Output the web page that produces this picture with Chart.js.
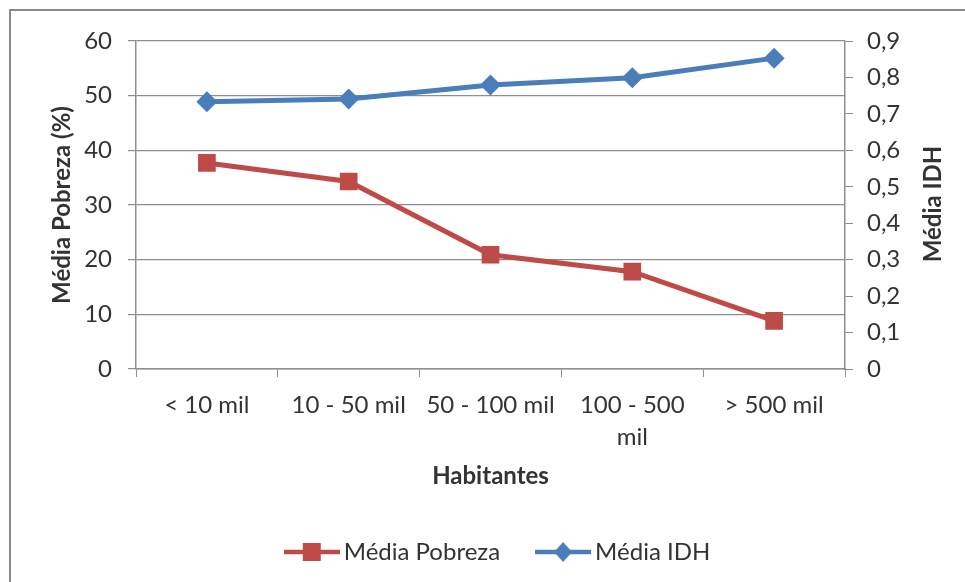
<!DOCTYPE html>
<html>
<head>
<meta charset="utf-8">
<script src="https://cdn.jsdelivr.net/npm/chart.js@4"></script>
<style>
  body { margin: 0; background: #fff; }
  #frame { position: absolute; left: 9px; top: 9px; width: 1000px; height: 600px;
           border-left: 2px solid #8a8a8a; border-top: 2px solid #8a8a8a; }
  #wrap { position: absolute; left: 0; top: 0; width: 965px; height: 582px; }
</style>
</head>
<body>
<div id="frame"></div>
<div id="wrap"><canvas id="myChart" width="965" height="582"></canvas></div>
<script>
const categories = ['< 10 mil', '10 - 50 mil', '50 - 100 mil', ['100 - 500', 'mil'], '> 500 mil'];
const pobreza = [37.7, 34.3, 20.9, 17.8, 8.8];
const idh = [0.733, 0.741, 0.779, 0.799, 0.853];
const leftTicks = [0, 10, 20, 30, 40, 50, 60];
const rightTicks = ['0', '0,1', '0,2', '0,3', '0,4', '0,5', '0,6', '0,7', '0,8', '0,9'];
const rightTitle = 'Média IDH';

const red = '#be4b48';
const blue = '#4a7ebb';
const gridColor = '#8e8e8e';
const textColor = '#333';
const fontFamily = 'Lato, "Open Sans", sans-serif';

// little legend icons: a line with the marker in the middle
function legendIcon(color, shape) {
  const c = document.createElement('canvas');
  c.width = 56; c.height = 22;
  const g = c.getContext('2d');
  g.strokeStyle = color; g.lineWidth = 4.5;
  g.beginPath(); g.moveTo(0, 11); g.lineTo(56, 11); g.stroke();
  g.fillStyle = color;
  if (shape === 'rect') {
    g.fillRect(19, 2, 18, 18);
  } else {
    g.beginPath(); g.moveTo(28, 1); g.lineTo(37, 11); g.lineTo(28, 21); g.lineTo(19, 11); g.closePath(); g.fill();
  }
  return c;
}
const icons = [legendIcon(red, 'rect'), legendIcon(blue, 'diamond')];

// right axis title reads bottom-to-top like the left one
const rightTitlePlugin = {
  id: 'rightTitle',
  afterLayout(chart) {
    // nudge the legend a bit to the right
    chart.legend.left += 21;
    chart.legend.right += 21;
  },
  afterDraw(chart) {
    const { ctx, chartArea } = chart;
    ctx.save();
    ctx.translate(933, (chartArea.top + chartArea.bottom) / 2 - 1);
    ctx.rotate(-Math.PI / 2);
    ctx.font = 'bold 24px ' + fontFamily;
    ctx.fillStyle = textColor;
    ctx.textAlign = 'center';
    ctx.textBaseline = 'middle';
    ctx.fillText(rightTitle, 0, 0);
    ctx.restore();
  }
};

const ctx = document.getElementById('myChart').getContext('2d');
new Chart(ctx, {
  type: 'line',
  plugins: [rightTitlePlugin],
  data: {
    labels: categories,
    datasets: [
      {
        label: 'Média Pobreza',
        data: pobreza,
        yAxisID: 'y',
        borderColor: red,
        backgroundColor: red,
        borderWidth: 5,
        pointStyle: 'rect',
        pointRadius: 12.5,
        pointBorderWidth: 0,
        tension: 0
      },
      {
        label: 'Média IDH',
        data: idh,
        yAxisID: 'y1',
        borderColor: blue,
        backgroundColor: blue,
        borderWidth: 5,
        pointStyle: 'rectRot',
        pointRadius: 10.5,
        pointBorderWidth: 0,
        tension: 0
      }
    ]
  },
  options: {
    responsive: false,
    animation: false,
    layout: { padding: { top: 41, left: 0, right: 5, bottom: 8 } },
    plugins: {
      tooltip: { enabled: false },
      legend: {
        position: 'bottom',
        labels: {
          usePointStyle: true,
          pointStyleWidth: 40,
          padding: 43,
          color: textColor,
          font: { family: fontFamily, size: 24 },
          generateLabels: (chart) => Chart.defaults.plugins.legend.labels.generateLabels(chart)
            .map((item, i) => Object.assign(item, { pointStyle: icons[i] }))
        }
      }
    },
    scales: {
      x: {
        offset: true,
        grid: { offset: true, drawOnChartArea: false, color: gridColor, tickLength: 8 },
        border: { color: gridColor, width: 1.5 },
        ticks: { color: textColor, padding: 12, maxRotation: 0, autoSkip: false,
                 font: { family: fontFamily, size: 24, lineHeight: 1.33 } },
        title: { display: true, text: 'Habitantes', color: textColor,
                 padding: { top: 0, bottom: 6 },
                 font: { family: fontFamily, size: 24, weight: 'bold' } },
        afterFit: (s) => { s.height = 128; }
      },
      y: {
        position: 'left',
        min: 0, max: 60,
        afterBuildTicks: (s) => { s.ticks = leftTicks.map(v => ({ value: v })); },
        grid: { color: gridColor, lineWidth: 1.2, tickLength: 8 },
        border: { color: gridColor, width: 1.5 },
        ticks: { color: textColor, padding: 16, font: { family: fontFamily, size: 24 } },
        title: { display: true, text: 'Média Pobreza (%)', color: textColor,
                 padding: { top: 48, bottom: 0 },
                 font: { family: fontFamily, size: 24, weight: 'bold' } },
        afterFit: (s) => { s.width = 136; }
      },
      y1: {
        position: 'right',
        min: 0, max: 0.9,
        afterBuildTicks: (s) => { s.ticks = rightTicks.map((t, i) => ({ value: i / 10 })); },
        grid: { drawOnChartArea: false, color: gridColor, tickLength: 8 },
        border: { color: gridColor, width: 1.5 },
        ticks: { color: textColor, padding: 14, font: { family: fontFamily, size: 24 },
                 callback: (v, i) => rightTicks[i] },
        afterFit: (s) => { s.width = 115; }
      }
    }
  }
});
</script>
</body>
</html>
